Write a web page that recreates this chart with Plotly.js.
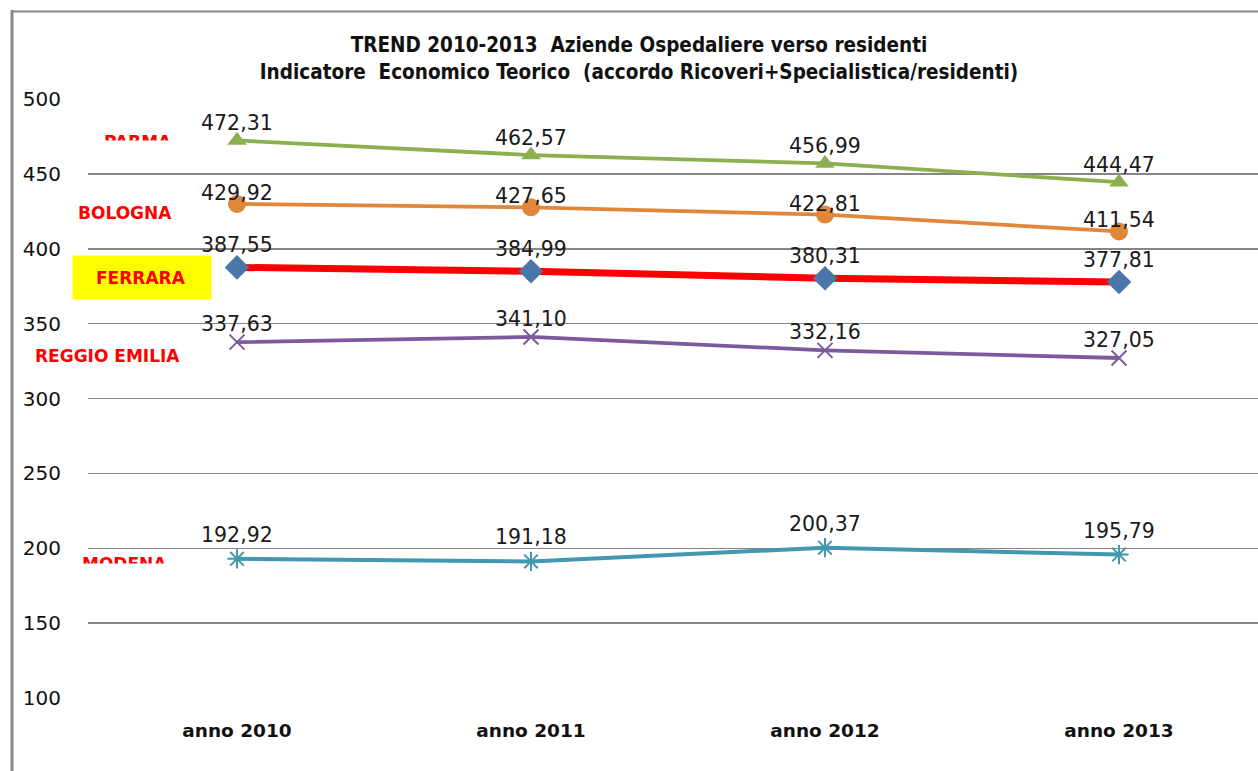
<!DOCTYPE html>
<html>
<head>
<meta charset="utf-8">
<script src="https://cdn.plot.ly/plotly-3.0.1.min.js"></script>
<style>html,body{margin:0;padding:0;background:#fff;}#chart{width:1258px;height:771px;}</style>
</head>
<body>
<div id="chart"></div>
<script>
const categories = ['anno 2010', 'anno 2011', 'anno 2012', 'anno 2013'];
const parma = [472.31, 462.57, 456.99, 444.47];
const bologna = [429.92, 427.65, 422.81, 411.54];
const ferrara = [387.55, 384.99, 380.31, 377.81];
const reggioEmilia = [337.63, 341.10, 332.16, 327.05];
const modena = [192.92, 191.18, 200.37, 195.79];
const yTicks = [100, 150, 200, 250, 300, 350, 400, 450, 500];
const titleLines = ['TREND 2010-2013  Aziende Ospedaliere verso residenti',
  'Indicatore  Economico Teorico  (accordo Ricoveri+Specialistica/residenti)'];

const W = 1258, H = 771;
const L = 88, R = 0, T = 99, B = 73;
const PW = W - L - R, PH = H - T - B;
const px = v => (v - L) / PW;
const py = v => (H - B - v) / PH;

const fmt = arr => arr.map(v => v.toFixed(2).replace('.', ','));
const labelFont = {family: 'DejaVu Sans', size: 20.5, color: '#1a1a1a'};

function series(name, vals, lineColor, lineWidth, marker) {
  return {
    type: 'scatter', mode: 'lines+markers', name: name,
    x: categories, y: vals,
    line: {color: lineColor, width: lineWidth},
    marker: marker, showlegend: false, hoverinfo: 'skip', cliponaxis: false
  };
}

const data = [
  series('MODENA', modena, '#4198AF', 4, {symbol: 'asterisk-open', size: 16, line: {color: '#4198AF', width: 2}, color: '#4198AF'}),
  series('REGGIO EMILIA', reggioEmilia, '#7D5A9C', 3.8, {symbol: 'x-thin-open', size: 15, line: {color: '#7D5A9C', width: 2}, color: '#7D5A9C'}),
  series('FERRARA', ferrara, '#FF0000', 7, {symbol: 'diamond', size: 19, color: '#4A76AA'}),
  series('BOLOGNA', bologna, '#E0873C', 3.8, {symbol: 'circle', size: 18, color: '#E0873C'}),
  series('PARMA', parma, '#8CB050', 3.8, {symbol: 'triangle-up', size: 17, color: '#8CB050'})
];

// data labels (value labels above the points), offset per series in pixels
function valueLabels(vals, shift) {
  const t = fmt(vals);
  return vals.map((v, i) => ({
    xref: 'x', yref: 'y', x: categories[i], y: v, text: t[i], showarrow: false,
    xanchor: 'center', yanchor: 'middle', yshift: shift, font: labelFont
  }));
}

const redFont = {family: 'DejaVu Sans', size: 17, color: '#FF0000', weight: 'bold'};
function ann(text, cx, cy, extra) {
  return Object.assign({xref: 'paper', yref: 'paper', x: px(cx), y: py(cy), xanchor: 'center', yanchor: 'middle',
    text: text, showarrow: false, font: redFont}, extra || {});
}

const annotations = [
  {xref: 'paper', yref: 'paper', x: px(142), y: py(277.5), xanchor: 'center', yanchor: 'middle', text: ' ',
    showarrow: false, bgcolor: '#FFFF00', width: 138, height: 43, borderpad: 0, font: {size: 10}},
  ann('<b>PARMA</b>', 138, 141.5),
  {xref: 'paper', yref: 'paper', x: px(138), y: py(140), xanchor: 'center', yanchor: 'top', text: ' ',
    showarrow: false, bgcolor: '#FFFFFF', width: 100, height: 16, borderpad: 0, font: {size: 10}},
  ann('<b>BOLOGNA</b>', 125, 213),
  ann('<b>FERRARA</b>', 141, 278),
  ann('<b>REGGIO EMILIA</b>', 107.5, 356),
  ann('<b>MODENA</b>', 124, 563.5),
  {xref: 'paper', yref: 'paper', x: px(124), y: py(563), xanchor: 'center', yanchor: 'top', text: ' ',
    showarrow: false, bgcolor: '#FFFFFF', width: 110, height: 16, borderpad: 0, font: {size: 10}}
].concat(
  valueLabels(parma, 17),
  valueLabels(bologna, 11),
  valueLabels(ferrara, 22),
  valueLabels(reggioEmilia, 18),
  valueLabels(modena, 24)
);

const layout = {
  width: W, height: H,
  margin: {l: L, r: R, t: T, b: B, pad: 0},
  paper_bgcolor: '#FFFFFF', plot_bgcolor: '#FFFFFF',
  title: {text: '<b>' + titleLines.join('<br>') + '</b>', x: px(639), xref: 'paper', xanchor: 'center',
    y: 1 - 52 / H, yanchor: 'top', font: {family: 'DejaVu Sans Condensed, DejaVu Sans', size: 20.5, color: '#111'}},
  xaxis: {
    type: 'category', range: [-(237 - L) / 294, -(237 - L) / 294 + PW / 294],
    showgrid: false, zeroline: false, showline: false, ticks: '',
    tickfont: {family: 'DejaVu Sans', size: 18.5, color: '#111', weight: 'bold'},
    ticklabelstandoff: 19
  },
  yaxis: {
    range: [100, 500], tickvals: yTicks, ticktext: yTicks.map(String),
    showgrid: true, gridcolor: '#868686', gridwidth: 1.5, zeroline: false, showline: false, ticks: '',
    tickfont: {family: 'DejaVu Sans', size: 20, color: '#111'},
    ticklabelstandoff: 26
  },
  shapes: [
    {type: 'line', xref: 'paper', yref: 'paper', x0: px(12), x1: px(12), y0: py(10), y1: py(800), line: {color: '#888888', width: 3}},
    {type: 'line', xref: 'paper', yref: 'paper', x0: px(11), x1: px(1300), y0: py(11.5), y1: py(11.5), line: {color: '#888888', width: 2}}
  ],
  annotations: annotations
};

Plotly.newPlot('chart', data, layout, {displayModeBar: false, staticPlot: true});
</script>
</body>
</html>
